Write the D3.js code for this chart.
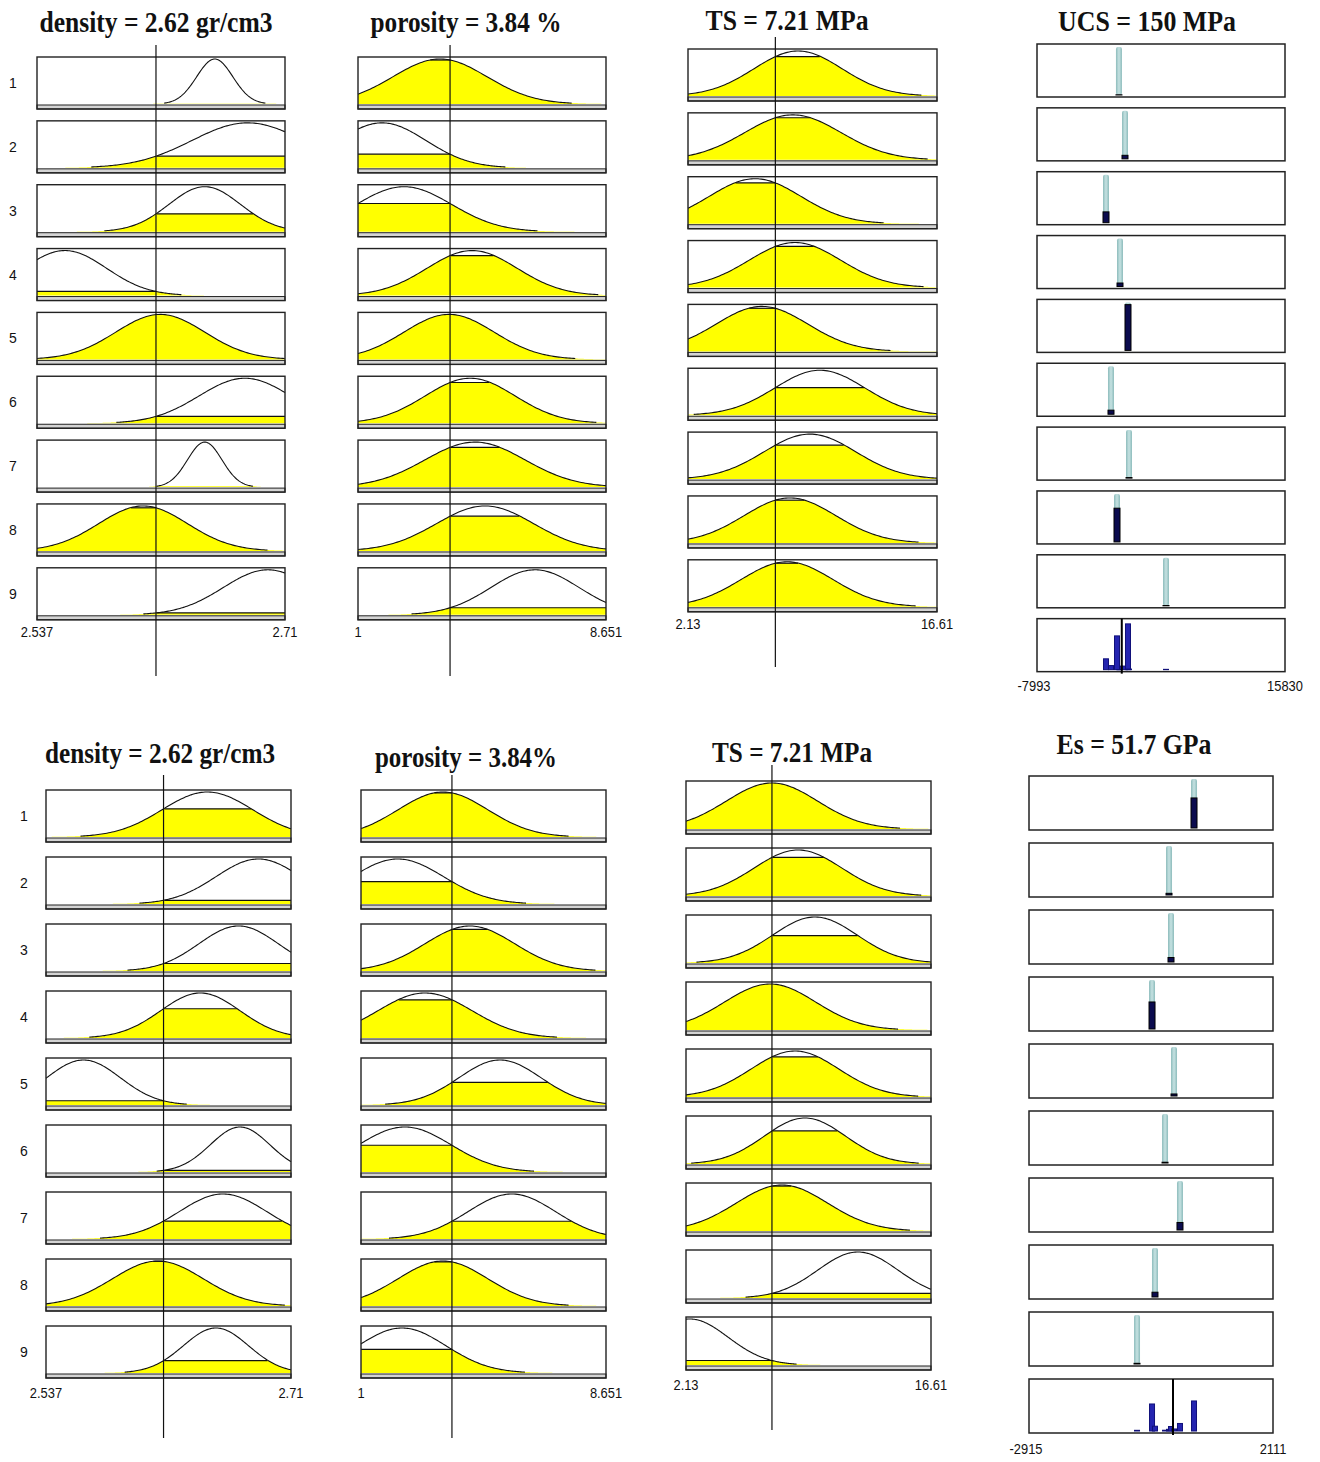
<!DOCTYPE html>
<html>
<head>
<meta charset="utf-8">
<script src="https://cdn.jsdelivr.net/npm/d3@7"></script>
<style>
  body { margin: 0; background: #ffffff; }
  svg { display: block; }
</style>
</head>
<body>
<svg id="chart" width="1320" height="1462"></svg>
<script>
// ---------- Universes of discourse ----------
const densityRange = [2.537, 2.71];
const porosityRange = [1, 8.651];
const tsRange = [2.13, 16.61];
const ucsRange = [-7993, 15830];
const esRange = [-2915, 2111];

// ---------- Crisp inputs and defuzzified outputs ----------
const inputValues = [2.62, 3.84, 7.21];     // density, porosity, TS
const ucsValue = 150;
const esValue = 51.7;

const ucsTitles = ["density = 2.62 gr/cm3", "porosity = 3.84 %", "TS = 7.21 MPa", "UCS = 150 MPa"];
const esTitles = ["density = 2.62 gr/cm3", "porosity = 3.84%", "TS = 7.21 MPa", "Es = 51.7 GPa"];

const ruleNumbers = ["1", "2", "3", "4", "5", "6", "7", "8", "9"];

// ---------- UCS system: Gaussian MFs [center, sigma] per rule ----------
const ucsDensityMF = [
  [2.661, 0.0126], [2.684, 0.039], [2.654, 0.025], [2.5565, 0.029], [2.623, 0.031],
  [2.682, 0.032], [2.654, 0.012], [2.611, 0.031], [2.698, 0.031]
];
const ucsPorosityMF = [
  [3.53, 1.45], [1.74, 1.36], [2.42, 1.47], [4.52, 1.39], [3.81, 1.39],
  [4.46, 1.39], [4.61, 1.54], [4.92, 1.50], [6.46, 1.36]
];
const ucsTsMF = [
  [8.53, 2.56], [8.23, 2.80], [6.03, 2.67], [8.35, 2.67], [6.43, 2.67],
  [9.80, 2.62], [9.22, 2.67], [8.06, 2.67], [7.89, 2.67]
];
// Sugeno constant output of each rule (MPa)
const ucsRuleOutputs = [-120, 460, -1365, -20, 748, -885, 845, -308, 4399];

// ---------- Es system: Gaussian MFs [center, sigma] per rule ----------
const esDensityMF = [
  [2.651, 0.032], [2.687, 0.030], [2.673, 0.028], [2.646, 0.028], [2.5635, 0.026],
  [2.674, 0.021], [2.662, 0.031], [2.616, 0.032], [2.657, 0.023]
];
const esPorosityMF = [
  [3.56, 1.40], [2.15, 1.43], [4.40, 1.40], [3.00, 1.47], [5.34, 1.28],
  [2.37, 1.44], [5.71, 1.37], [3.56, 1.40], [2.28, 1.37]
];
const esTsMF = [
  [7.21, 2.70], [8.75, 2.60], [9.75, 2.50], [7.10, 2.70], [8.57, 2.60],
  [9.16, 2.40], [7.80, 2.70], [12.29, 2.37], [2.36, 2.25]
];
// Sugeno constant output of each rule (GPa)
const esRuleOutputs = [484, -31, 10, -381, 72, -113, 195, -320, -690];

const inputRanges = [densityRange, porosityRange, tsRange];

// ---------- Page layout ----------
const panels = [
  {
    titles: ucsTitles,
    mfs: [ucsDensityMF, ucsPorosityMF, ucsTsMF],
    outputs: ucsRuleOutputs, outRange: ucsRange, outValue: ucsValue,
    pitch: 63.85, rowLabelX: 13,
    inputCols: [
      { x0: 37, x1: 285, top: 57, h: 52, line: [45, 676], labelY: 637, titleX: 156, titleY: 32, titleW: 233 },
      { x0: 358, x1: 606, top: 57, h: 52, line: [45, 676], labelY: 637, titleX: 466, titleY: 32, titleW: 191 },
      { x0: 688, x1: 937, top: 49, h: 52, line: [37, 667], labelY: 629, titleX: 787, titleY: 30, titleW: 163 }
    ],
    outCol: { x0: 1037, x1: 1285, top: 44, h: 53, labelY: 691, titleX: 1147, titleY: 31, titleW: 178 }
  },
  {
    titles: esTitles,
    mfs: [esDensityMF, esPorosityMF, esTsMF],
    outputs: esRuleOutputs, outRange: esRange, outValue: esValue,
    pitch: 67, rowLabelX: 24,
    inputCols: [
      { x0: 46, x1: 291, top: 790, h: 52, line: [775, 1438], labelY: 1398, titleX: 160, titleY: 763, titleW: 230 },
      { x0: 361, x1: 606, top: 790, h: 52, line: [775, 1438], labelY: 1398, titleX: 466, titleY: 767, titleW: 182 },
      { x0: 686, x1: 931, top: 781, h: 53, line: [765, 1430], labelY: 1390, titleX: 792, titleY: 762, titleW: 160 }
    ],
    outCol: { x0: 1029, x1: 1273, top: 776, h: 54, labelY: 1454, titleX: 1134, titleY: 754, titleW: 155 }
  }
];

const svg = d3.select("#chart");
const defs = svg.append("defs");
const grad = defs.append("linearGradient").attr("id", "ruleBar").attr("x1", "0").attr("x2", "1").attr("y1", "0").attr("y2", "0");
grad.append("stop").attr("offset", "0%").attr("stop-color", "#8dbcbc");
grad.append("stop").attr("offset", "50%").attr("stop-color", "#c6e2e2");
grad.append("stop").attr("offset", "100%").attr("stop-color", "#8dbcbc");

const gauss = (x, c, s) => Math.exp(-((x - c) * (x - c)) / (2 * s * s));

const titleFont = "'Liberation Serif', 'Times New Roman', serif";
const labelFont = "'Liberation Sans', Arial, sans-serif";

function drawTitle(text, x, y, w) {
  svg.append("text")
    .attr("x", x).attr("y", y)
    .attr("text-anchor", "middle")
    .attr("font-family", titleFont)
    .attr("font-weight", "bold")
    .attr("font-size", 29)
    .attr("textLength", w)
    .attr("lengthAdjust", "spacingAndGlyphs")
    .attr("fill", "#111")
    .text(text);
}

function drawRangeLabels(range, x0, x1, y) {
  [[range[0], x0], [range[1], x1]].forEach(([v, x]) => {
    svg.append("text")
      .attr("x", x).attr("y", y)
      .attr("text-anchor", "middle")
      .attr("font-family", labelFont)
      .attr("font-size", 15)
      .attr("fill", "#111")
      .attr("transform", `translate(${x},0) scale(0.86,1) translate(${-x},0)`)
      .text(String(v));
  });
}

panels.forEach(panel => {
  // Per-rule degree of each input, and rule firing strength (product)
  const degrees = panel.mfs.map((mfList, k) =>
    mfList.map(([c, s]) => gauss(inputValues[k], c, s)));
  const firing = ruleNumbers.map((_, r) => degrees.reduce((p, d) => p * d[r], 1));

  // ----- input columns -----
  panel.inputCols.forEach((col, k) => {
    const range = inputRanges[k];
    const x = d3.scaleLinear().domain(range).range([col.x0, col.x1]);
    const samples = d3.range(0, 241).map(i => range[0] + (range[1] - range[0]) * i / 240);

    drawTitle(panel.titles[k], col.titleX, col.titleY, col.titleW);

    panel.mfs[k].forEach(([c, s], r) => {
      const top = col.top + r * panel.pitch;
      const bottom = top + col.h;
      const y = d3.scaleLinear().domain([0, 1]).range([bottom - 5, top + 2]);
      const g = svg.append("g");
      const deg = degrees[k][r];

      // clipped (implication) area
      const area = d3.area()
        .x(v => x(v)).y0(y(0)).y1(v => y(Math.min(gauss(v, c, s), deg)));
      g.append("path").datum(samples).attr("d", area).attr("fill", "#ffff00");

      // flat top of the clipped region
      const above = samples.filter(v => gauss(v, c, s) >= deg);
      if (deg > 0.02 && deg < 0.995 && above.length > 1) {
        g.append("line")
          .attr("x1", x(d3.min(above))).attr("x2", x(d3.max(above)))
          .attr("y1", y(deg)).attr("y2", y(deg))
          .attr("stroke", "#111").attr("stroke-width", 1.2);
      }

      // membership curve
      const lo = Math.max(range[0], c - 2.8 * s), hi = Math.min(range[1], c + 2.8 * s);
      const curvePts = d3.range(0, 121).map(i => lo + (hi - lo) * i / 120);
      g.append("path").datum(curvePts)
        .attr("d", d3.line().x(v => x(v)).y(v => y(gauss(v, c, s))))
        .attr("fill", "none").attr("stroke", "#111").attr("stroke-width", 1.1);

      // baseline strip and frame
      g.append("rect").attr("x", col.x0).attr("y", bottom - 4).attr("width", col.x1 - col.x0).attr("height", 4)
        .attr("fill", "#d4d4d4").attr("stroke", "#222").attr("stroke-width", 1);
      g.append("rect").attr("x", col.x0).attr("y", top).attr("width", col.x1 - col.x0).attr("height", col.h)
        .attr("fill", "none").attr("stroke", "#222").attr("stroke-width", 1.4);

      if (k === 0) {
        svg.append("text")
          .attr("x", panel.rowLabelX).attr("y", top + col.h / 2 + 5)
          .attr("text-anchor", "middle")
          .attr("font-family", labelFont).attr("font-size", 14)
          .attr("fill", "#111")
          .text(ruleNumbers[r]);
      }
    });

    // input value line
    svg.append("line")
      .attr("x1", x(inputValues[k])).attr("x2", x(inputValues[k]))
      .attr("y1", col.line[0]).attr("y2", col.line[1])
      .attr("stroke", "#111").attr("stroke-width", 1.2);

    drawRangeLabels(range, col.x0, col.x1, col.labelY);
  });

  // ----- output column -----
  const oc = panel.outCol;
  const xo = d3.scaleLinear().domain(panel.outRange).range([oc.x0, oc.x1]);
  drawTitle(panel.titles[3], oc.titleX, oc.titleY, oc.titleW);

  panel.outputs.forEach((v, r) => {
    const top = oc.top + r * panel.pitch;
    const bottom = top + oc.h;
    const hScale = d3.scaleLinear().domain([0, 1]).range([0, oc.h - 5]);
    svg.append("rect").attr("x", oc.x0).attr("y", top).attr("width", oc.x1 - oc.x0).attr("height", oc.h)
      .attr("fill", "#fff").attr("stroke", "#222").attr("stroke-width", 1.5);
    svg.append("rect")
      .attr("x", xo(v) - 3).attr("y", top + 3).attr("width", 6).attr("height", oc.h - 5)
      .attr("rx", 2)
      .attr("fill", "url(#ruleBar)");
    const fh = hScale(firing[r]);
    svg.append("rect")
      .attr("x", xo(v) - 3).attr("y", bottom - 2 - fh).attr("width", 6).attr("height", fh)
      .attr("fill", "#0b0b4e").attr("stroke", "#000").attr("stroke-width", 1);
  });

  // aggregated output row
  const aTop = oc.top + 9 * panel.pitch;
  const aBottom = aTop + oc.h;
  const aScale = d3.scaleLinear().domain([0, 1]).range([0, oc.h - 5]);
  svg.append("rect").attr("x", oc.x0).attr("y", aTop).attr("width", oc.x1 - oc.x0).attr("height", oc.h)
    .attr("fill", "#fff").attr("stroke", "#222").attr("stroke-width", 1.5);
  panel.outputs.forEach((v, r) => {
    const h = aScale(firing[r]);
    svg.append("rect")
      .attr("x", xo(v) - 2.5).attr("y", aBottom - 2 - h).attr("width", 5).attr("height", h)
      .attr("fill", "#2525b0").attr("stroke", "#11117a").attr("stroke-width", 1);
  });
  svg.append("line")
    .attr("x1", xo(panel.outValue)).attr("x2", xo(panel.outValue))
    .attr("y1", aTop).attr("y2", aBottom + 2)
    .attr("stroke", "#000").attr("stroke-width", 2);

  drawRangeLabels(panel.outRange, oc.x0 - 3, oc.x1, oc.labelY);
});
</script>
</body>
</html>
